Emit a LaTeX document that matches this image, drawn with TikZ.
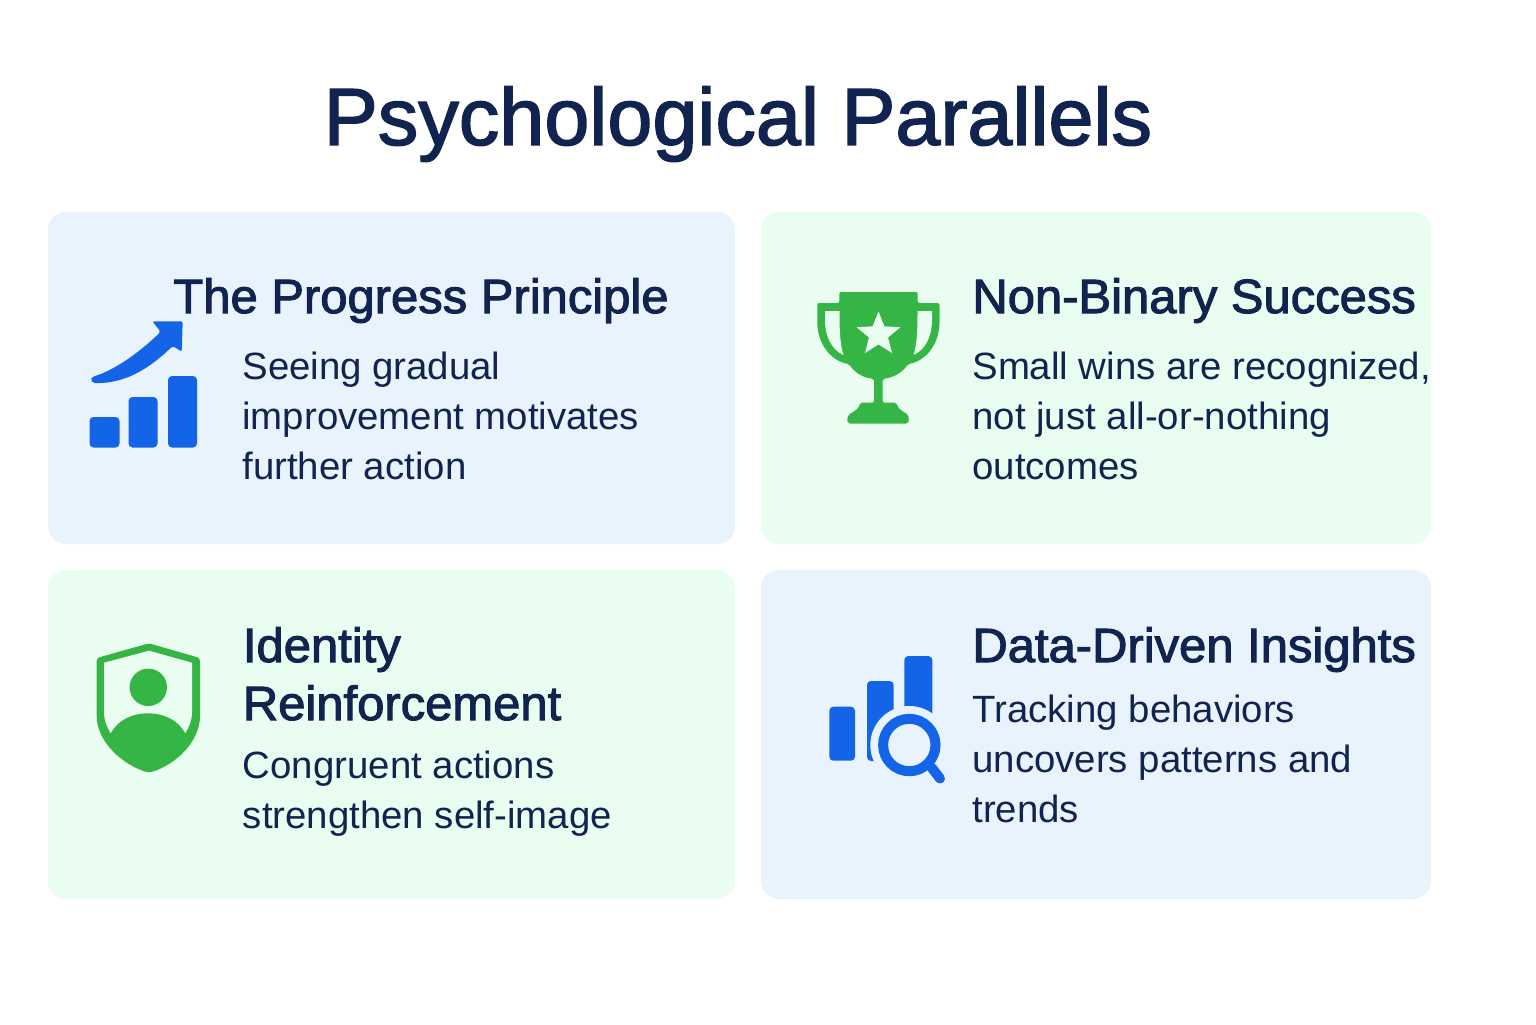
\documentclass[tikz,border=0pt]{standalone}
\usepackage{fontspec}
\setmainfont[FakeStretch=1.01]{Liberation Sans}
\newfontfamily\headfont[FakeBold=2.2, FakeStretch=1.02]{Liberation Sans}
\newfontfamily\titlefont[FakeBold=1.8]{Liberation Sans}
\usetikzlibrary{shapes.geometric}
\definecolor{inkblue}{HTML}{10244F}
\definecolor{paleblue}{HTML}{E8F3FE}
\definecolor{palegreen}{HTML}{E9FEF0}
\definecolor{iconblue}{HTML}{1464E8}
\definecolor{icongreen}{HTML}{34B545}
\tikzset{
  card/.style={rounded corners=9pt, draw=none},
  heading/.style={anchor=base west, inner sep=0pt, text=inkblue, font=\headfont\fontsize{24}{29}\selectfont, align=left},
  bodytext/.style={anchor=north west, inner sep=0pt, text=inkblue, font=\fontsize{19}{25}\selectfont, align=left},
  bar/.style={rounded corners=2pt}
}
\begin{document}
\begin{tikzpicture}[x=0.5pt, y=-0.5pt]
      \useasboundingbox (0, 0) rectangle (1536, 1024);
      \fill[white] (0, 0) rectangle (1536, 1024);

      \node[inner sep=0pt, text=inkblue, font=\titlefont\fontsize{40.5}{50}\selectfont] (title) at (738, 124) {Psychological Parallels};

      \fill[card, paleblue] (48, 212) rectangle (735, 544);
      \fill[card, palegreen] (761, 212) rectangle (1431, 544);
      \fill[card, palegreen] (48, 570) rectangle (735, 899);
      \fill[card, paleblue] (761, 570) rectangle (1431, 899);

      % top left
      \node[heading] (progress) at (173, 313) {The Progress Principle};
      \node[bodytext] (progresstext) at (242, 352) {Seeing gradual\\improvement motivates\\further action};
      \fill[bar, iconblue] (89.5, 417) rectangle (119.5, 447.5);
      \fill[bar, iconblue] (128.5, 397) rectangle (157.5, 447.5);
      \fill[bar, iconblue] (168, 376) rectangle (197, 447.5);
      \fill[iconblue, rounded corners=1pt] (152.3, 321.3) -- (182.7, 321.3) -- (181.7, 351.7) -- (172.7, 346)
        .. controls (150, 368) and (125, 384) .. (93, 383) -- (90.5, 380) -- (92, 377)
        .. controls (115, 370) and (140, 352) .. (160.7, 331.7) -- cycle;

      % top right
      \node[heading] (success) at (972, 313) {Non-Binary Success};
      \node[bodytext] (successtext) at (972, 352) {Small wins are recognized,\\not just all-or-nothing\\outcomes};
      \fill[icongreen, rounded corners=1pt] (839.3, 292) -- (917.7, 292) -- (917.7, 303) -- (939.5, 303) -- (939.5, 320)
        .. controls (939.5, 345) and (925, 361) .. (908, 364)
        .. controls (902, 373) and (892, 378) .. (882.7, 378.7) -- (882.7, 402.7) -- (896.7, 402.7)
        .. controls (899, 412) and (908, 412) .. (909, 419) -- (908, 423.7) -- (848, 423.7) -- (847, 419)
        .. controls (849, 412) and (858, 412) .. (860, 402.7) -- (874, 402.7) -- (874, 378.7)
        .. controls (864, 378) and (855, 373) .. (849, 364)
        .. controls (832, 361) and (817.3, 345) .. (817.3, 320) -- (817.3, 303) -- (839.3, 303) -- cycle;
      \fill[palegreen] (825, 311) -- (839.5, 311) .. controls (839.5, 330) and (840, 345) .. (843.5, 355)
        .. controls (832, 350) and (825, 337) .. (825, 320) -- cycle;
      \fill[palegreen] (932, 311) -- (917.5, 311) .. controls (917.5, 330) and (917, 345) .. (913.5, 355)
        .. controls (925, 350) and (932, 337) .. (932, 320) -- cycle;
      \node[star, star points=5, star point ratio=2.3, fill=palegreen, inner sep=0pt, minimum size=23pt] (trophystar) at (878.5, 334.4) {};

      % bottom left
      \node[heading] (identity) at (242.5, 662) {Identity};
      \node[heading] (reinforcement) at (242.5, 720) {Reinforcement};
      \node[bodytext] (identitytext) at (242.5, 751) {Congruent actions\\strengthen self-image};
      \fill[icongreen, rounded corners=1.5pt] (149, 643.3) -- (200, 658) -- (200, 713)
        .. controls (200, 742) and (175, 765) .. (149, 772.7)
        .. controls (123, 765) and (96.7, 742) .. (96.7, 713) -- (96.7, 658) -- cycle;
      \fill[palegreen] (149, 650.7) -- (192, 662.7) -- (192, 713) .. controls (192, 720) and (189, 727) .. (185.3, 733.3)
        -- (110.7, 733.3) .. controls (107, 727) and (104, 720) .. (104, 713) -- (104, 662.7) -- cycle;
      \fill[icongreen] (110.7, 733.3) .. controls (118, 720) and (132, 713.3) .. (148, 713.3)
        .. controls (164, 713.3) and (178, 720) .. (185.3, 733.3) -- (185.3, 745) -- (110.7, 745) -- cycle;
      \fill[icongreen] (148.3, 687.3) circle (18.7);

      % bottom right
      \node[heading] (insights) at (972, 662) {Data-Driven Insights};
      \node[bodytext] (insightstext) at (972, 695) {Tracking behaviors\\uncovers patterns and\\trends};
      \fill[bar, iconblue] (829.3, 706.7) rectangle (855, 760.7);
      \fill[bar, iconblue] (867, 681) rectangle (893.7, 761);
      \fill[bar, iconblue] (904.3, 656) rectangle (932.3, 720);
      \fill[paleblue] (909.3, 745) circle (39);
      \draw[iconblue, line width=5pt, line cap=round] (932, 768) -- (940, 778.5);
      \draw[iconblue, line width=5pt, fill=paleblue] (909.3, 745) circle (26.2);
\end{tikzpicture}
\end{document}
